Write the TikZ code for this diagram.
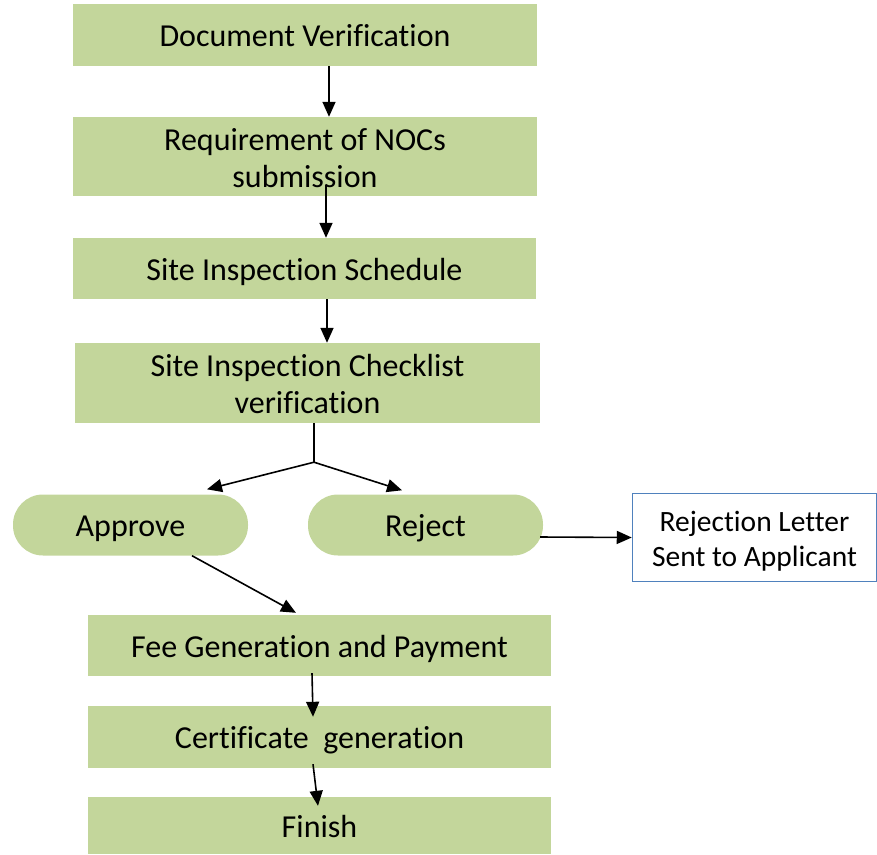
\documentclass[tikz,border=0pt]{standalone}
\usepackage{fontspec}
\setmainfont[Ligatures={NoCommon}]{Carlito}
\definecolor{stepgreen}{RGB}{195,214,155}
\definecolor{letterblue}{RGB}{79,129,189}
\usetikzlibrary{arrows.meta,calc}
% line box like a word processor
\newcommand\wpstrut{\rule[-0.27em]{0pt}{1.28em}}

\begin{document}
\begin{tikzpicture}[x=1pt, y=-1pt, font=\fontsize{32}{37}\selectfont,
  oneline/.style={execute at begin node=\wpstrut, execute at end node=\wpstrut},
  twolines/.style={text height=69pt, text depth=8pt},
  stepbox/.style={rectangle, fill=stepgreen, inner sep=0pt, align=center},
  choice/.style={rectangle, fill=stepgreen, rounded corners=30pt, inner sep=0pt,
    minimum width=235pt, minimum height=61pt, oneline},
  letter/.style={rectangle, draw=letterblue, line width=1.5pt, fill=white, inner sep=0pt,
    align=center, minimum width=244pt, minimum height=88pt, font=\fontsize{29.5}{35}\selectfont,
    text height=65pt, text depth=8pt},
  arr/.style={line width=1.6pt, -{Triangle[length=15pt,width=13pt]}}]
\useasboundingbox (0,0) rectangle (877,854);
\node[stepbox, oneline, minimum width=464pt, minimum height=62pt] (doc) at (305,35) {Document Verification};
\node[stepbox, twolines, minimum width=464pt, minimum height=79pt] (noc) at (305,156.5) {Requirement of NOCs\\submission};
\node[stepbox, oneline, minimum width=463pt, minimum height=61pt] (sched) at (304.5,268.5) {Site Inspection Schedule};
\node[stepbox, twolines, minimum width=465pt, minimum height=80pt] (check) at (307.5,383) {Site Inspection Checklist\\verification};
\node[choice] (approve) at (130.5,525) {Approve};
\node[choice] (reject) at (425.5,525) {Reject};
\node[letter] (letter) at (754.5,537.5) {Rejection Letter\\Sent to Applicant};
\node[stepbox, oneline, minimum width=463pt, minimum height=61pt] (fee) at (319.5,645.5) {Fee Generation and Payment};
\node[stepbox, oneline, minimum width=463pt, minimum height=62pt] (cert) at (319.5,737) {Certificate~ generation};
\node[stepbox, oneline, minimum width=463pt, minimum height=57pt] (finish) at (319.5,825.5) {Finish};
% straight flow at the top
\draw[arr] ($(doc.south)+(24,0)$) -- ($(noc.north)+(24,0)$);
\draw[arr] ($(noc.south)+(21,-11)$) -- ($(sched.north)+(21.5,0)$);
\draw[arr] ($(sched.south)+(22.5,0)$) -- ($(check.north)+(19.5,0)$);
% split into approve / reject
\coordinate (fork) at ($(check.south)+(6.5,39)$);
\draw[line width=1.6pt] ($(check.south)+(6.5,0)$) -- (fork);
\draw[arr] (fork) -- ($(approve.north)+(76.5,-5)$);
\draw[arr] (fork) -- ($(reject.north)+(-23.5,-4)$);
\draw[arr] ($(reject.east)+(-3,12)$) -- (letter.west);
\draw[arr] ($(approve.south)+(61.5,0)$) -- ($(fee.north)+(-23.5,-2)$);
% bottom part
\draw[arr] ($(fee.south)+(-7.5,-3)$) -- ($(cert.north)+(-6.5,11)$);
\draw[arr] ($(cert.south)+(-6.5,-4)$) -- ($(finish.north)+(-1.5,9)$);
\end{tikzpicture}
\end{document}
